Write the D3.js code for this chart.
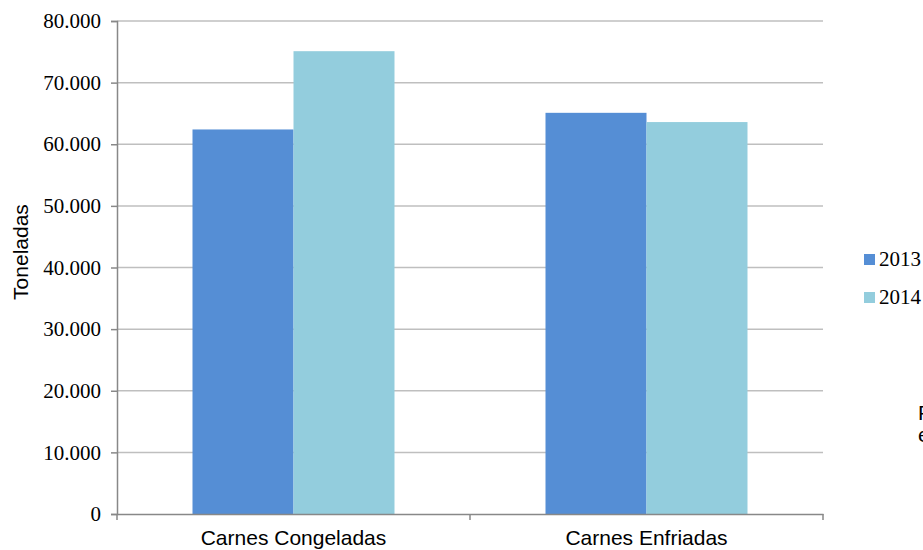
<!DOCTYPE html>
<html><head><meta charset="utf-8">
<script src="https://cdn.jsdelivr.net/npm/d3@7"></script>
<style>body{margin:0;background:#fff}svg{display:block}</style>
</head><body>
<script>
const categories = ["Carnes Congeladas", "Carnes Enfriadas"];
const seriesNames = ["2013", "2014"];
const values2013 = [62400, 65100];
const values2014 = [75100, 63600];
const yTicks = [0, 10000, 20000, 30000, 40000, 50000, 60000, 70000, 80000];
const colors = ["#558ed5", "#93cddd"];

const W = 923, H = 550;
const svg = d3.select("body").append("svg").attr("width", W).attr("height", H);
const mLeft = 117, mRight = 823, mTop = 21, mBottom = 514;
const serif = "'Liberation Serif', 'Times New Roman', serif";
const sans = "'Liberation Sans', Arial, sans-serif";
const FS = 21;

const y = d3.scaleLinear().domain([0, 80000]).range([mBottom, mTop]);
const x0 = d3.scaleBand().domain(categories).range([mLeft, mRight]).paddingInner(0).paddingOuter(0);
const x1 = d3.scaleBand().domain(seriesNames).range([0, x0.bandwidth()]).paddingInner(0).paddingOuter(0.7475);

const fmt = v => v === 0 ? "0" : d3.format(",.0f")(v).replace(/,/g, ".");

// gridlines
svg.append("g").selectAll("line").data(yTicks.filter(d => d > 0)).join("line")
  .attr("x1", mLeft).attr("x2", mRight)
  .attr("y1", d => y(d)).attr("y2", d => y(d))
  .attr("stroke", "#bfbfbf").attr("stroke-width", 1.5);

// bars
const data = categories.map((c, i) => ({cat: c, vals: [values2013[i], values2014[i]]}));
const g = svg.append("g").selectAll("g").data(data).join("g")
  .attr("transform", d => `translate(${x0(d.cat)},0)`);
g.selectAll("rect").data(d => d.vals.map((v, j) => ({s: seriesNames[j], v, j}))).join("rect")
  .attr("x", d => x1(d.s)).attr("width", x1.bandwidth())
  .attr("y", d => y(d.v)).attr("height", d => y(0) - y(d.v))
  .attr("fill", d => colors[d.j]);

// y axis
const yAxis = svg.append("g").attr("transform", `translate(${mLeft},0)`)
  .call(d3.axisLeft(y).tickValues(yTicks).tickFormat(fmt).tickSize(6).tickPadding(10))
  .attr("font-family", serif).attr("font-size", FS);
yAxis.select(".domain").attr("stroke", "#888").attr("stroke-width", 1.5);
yAxis.selectAll(".tick line").attr("stroke", "#888").attr("stroke-width", 1.5);
yAxis.selectAll(".tick text").attr("fill", "#000");

// x axis
const xAxis = svg.append("g").attr("transform", `translate(0,${mBottom})`)
  .call(d3.axisBottom(x0).tickSize(0).tickSizeOuter(0).tickPadding(0))
  .attr("font-family", sans).attr("font-size", FS);
xAxis.select(".domain").attr("stroke", "#888").attr("stroke-width", 1.5);
xAxis.selectAll(".tick text").attr("fill", "#000").attr("dy", null).attr("y", 31);
// separator ticks between categories
const sepX = [mLeft, x0(categories[1]), mRight];
svg.append("g").selectAll("line").data(sepX).join("line")
  .attr("x1", d => d).attr("x2", d => d).attr("y1", mBottom).attr("y2", mBottom + 6)
  .attr("stroke", "#888").attr("stroke-width", 1.5);

// y label
svg.append("text").attr("transform", "translate(28,252) rotate(-90)")
  .attr("text-anchor", "middle").attr("font-family", sans)
  .attr("font-size", FS).text("Toneladas");

// legend
const lg = svg.append("g").selectAll("g").data(seriesNames).join("g")
  .attr("transform", (d, i) => `translate(864,${254 + i * 38})`);
lg.append("rect").attr("width", 11).attr("height", 11).attr("fill", (d, i) => colors[i]);
lg.append("text").attr("x", 15).attr("y", 12).attr("font-family", serif)
  .attr("font-size", FS).text(d => d);

// source note, cut off at the right edge as in the original
svg.append("text").attr("x", 918).attr("y", 420).attr("font-family", sans)
  .attr("font-size", FS).text("Fuente:");
svg.append("text").attr("x", 918).attr("y", 442).attr("font-family", sans)
  .attr("font-size", FS).text("elaboración");
</script>
</body></html>
